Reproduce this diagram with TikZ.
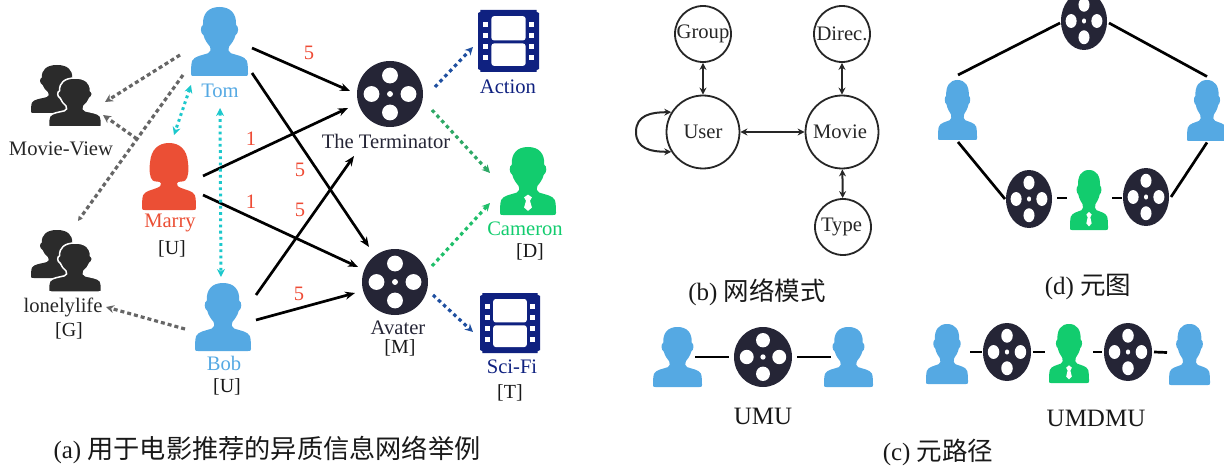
\documentclass[tikz,border=0pt]{standalone}
\usepackage{fontspec}
\setmainfont{Liberation Serif}
\newfontfamily\cjk{Noto Sans CJK SC}
\usetikzlibrary{arrows.meta,calc}
\definecolor{ublue}{HTML}{55A9E3}
\definecolor{ured}{HTML}{EB4F35}
\definecolor{ugreen}{HTML}{12CC6E}
\definecolor{reeldark}{HTML}{252536}
\definecolor{filmnavy}{HTML}{0F2180}
\definecolor{groupgrey}{HTML}{2B2B2B}
\definecolor{numred}{HTML}{EE4B35}
\definecolor{dotgrey}{HTML}{666666}
\definecolor{dotteal}{HTML}{1CC8CC}
\definecolor{dotblue}{HTML}{1F4FA0}
\definecolor{dotgreen}{HTML}{2EA866}
\definecolor{dotlime}{HTML}{1FBF6A}
\tikzset{
 x=1pt,y=-1pt,
 iconbox/.style={inner sep=0pt,outer sep=0pt,rectangle},
 lbl/.style={inner sep=0pt,font=\fontsize{20.6}{22}\selectfont,text=#1},
 lbl/.default=black,
 typ/.style={inner sep=0pt,font=\fontsize{20}{22}\selectfont,text=black!90},
 num/.style={inner sep=0pt,font=\fontsize{20.5}{22}\selectfont,text=numred},
 captext/.style={inner sep=0pt,font=\fontsize{25}{28}\selectfont,text=black!90},
 rel/.style={line width=2.7pt,black,-{Stealth[length=10pt,width=8pt]}},
 link/.style={line width=2.7pt,black},
 dotg/.style={line width=3.2pt,dotgrey,dash pattern=on 4pt off 3pt,-{Stealth[length=8pt,width=8pt]}},
 dott/.style={line width=3pt,dotteal,dash pattern=on 2.8pt off 3.4pt,{Stealth[length=8pt,width=8pt]}-{Stealth[length=8pt,width=8pt]}},
 dotc/.style={line width=3.2pt,#1,dash pattern=on 3.5pt off 3.5pt,-{Stealth[length=8pt,width=8pt]}},
 schema/.style={circle,draw=black!85,line width=1.8pt,inner sep=0pt,font=\fontsize{20.6}{22}\selectfont,text=black!85},
 schemaedge/.style={line width=2pt,black!85,{Stealth[length=7pt,width=7pt]}-{Stealth[length=7pt,width=7pt]}},
}
% person silhouette, unit box
\newcommand\personpath{(0,-.5) .. controls (.2,-.5) and (.3,-.4) .. (.29,-.24)
 .. controls (.34,-.22) and (.34,-.12) .. (.28,-.09)
 .. controls (.26,-.02) and (.21,.03) .. (.17,.07)
 .. controls (.15,.12) and (.15,.15) .. (.2,.17)
 .. controls (.3,.2) and (.44,.21) .. (.48,.28)
 .. controls (.5,.33) and (.5,.42) .. (.5,.47)
 .. controls (.5,.5) and (.48,.5) .. (.45,.5)
 -- (-.45,.5)
 .. controls (-.48,.5) and (-.5,.5) .. (-.5,.47)
 .. controls (-.5,.42) and (-.5,.33) .. (-.48,.28)
 .. controls (-.44,.21) and (-.3,.2) .. (-.2,.17)
 .. controls (-.15,.15) and (-.15,.12) .. (-.17,.07)
 .. controls (-.21,.03) and (-.26,-.02) .. (-.28,-.09)
 .. controls (-.34,-.12) and (-.34,-.22) .. (-.29,-.24)
 .. controls (-.3,-.4) and (-.2,-.5) .. (0,-.5) -- cycle}
\newcommand\personicon[5]{% name,cx,cy,w,h
 \node[iconbox,minimum width=#4pt,minimum height=#5pt] (#1) at (#2,#3) {};
 \begin{scope}[shift={(#2,#3)},xscale=#4,yscale=#5]
  \fill[ublue] \personpath;
 \end{scope}}
\newcommand\directoricon[5]{% name,cx,cy,w,h
 \node[iconbox,minimum width=#4pt,minimum height=#5pt] (#1) at (#2,#3) {};
 \begin{scope}[shift={(#2,#3)},xscale=#4,yscale=#5]
  \fill[ugreen] \personpath;
  \fill[white] (0,.2) -- (.07,.24) -- (.035,.29) -- (.07,.39) -- (0,.44) -- (-.07,.39) -- (-.035,.29) -- (-.07,.24) -- cycle;
 \end{scope}}
\newcommand\womanicon[5]{%
 \node[iconbox,minimum width=#4pt,minimum height=#5pt] (#1) at (#2,#3) {};
 \begin{scope}[shift={(#2,#3)},xscale=#4,yscale=#5]
  \fill[ured] (0,-.5) .. controls (.2,-.5) and (.33,-.4) .. (.35,-.22)
   .. controls (.37,-.1) and (.36,.02) .. (.3,.06)
   .. controls (.25,.09) and (.17,.06) .. (.15,.1)
   .. controls (.14,.13) and (.16,.15) .. (.22,.17)
   .. controls (.3,.2) and (.44,.21) .. (.48,.28)
   .. controls (.5,.33) and (.5,.42) .. (.5,.47)
   .. controls (.5,.5) and (.48,.5) .. (.45,.5) -- (-.45,.5)
   .. controls (-.48,.5) and (-.5,.5) .. (-.5,.47)
   .. controls (-.5,.42) and (-.5,.33) .. (-.48,.28)
   .. controls (-.44,.21) and (-.3,.2) .. (-.22,.17)
   .. controls (-.16,.15) and (-.14,.13) .. (-.15,.1)
   .. controls (-.17,.06) and (-.25,.09) .. (-.3,.06)
   .. controls (-.36,.02) and (-.37,-.1) .. (-.35,-.22)
   .. controls (-.33,-.4) and (-.2,-.5) .. (0,-.5) -- cycle;
 \end{scope}}
\newcommand\groupicon[3]{% name,cx,cy
 \node[iconbox,minimum width=70pt,minimum height=62pt] (#1) at (#2,#3) {};
 \begin{scope}[shift={(#2-9,#3-7)},xscale=52,yscale=48]
  \fill[groupgrey] \personpath;
 \end{scope}
 \begin{scope}[shift={(#2+9,#3+6.5)},xscale=53,yscale=49]
  \fill[groupgrey,draw=white,line width=1.5pt] \personpath;
 \end{scope}}
\newcommand\reelicon[5]{% name,cx,cy,rx,ry
 \node[iconbox,minimum width=2*#4 pt,minimum height=2*#5 pt] (#1) at (#2,#3) {};
 \begin{scope}[shift={(#2,#3)},xscale=#4,yscale=#5]
  \fill[reeldark] (0,0) circle (1);
  \fill[white] (0,-.56) circle (.24) (0,.56) circle (.24) (-.56,0) circle (.24) (.56,0) circle (.24) (0,0) circle (.09);
 \end{scope}}
\newcommand\filmicon[5]{% name,cx,cy,w,h
 \node[iconbox,minimum width=#4pt,minimum height=#5pt] (#1) at (#2,#3) {};
 \begin{scope}[shift={(#2,#3)},xscale=#4,yscale=#5]
  \fill[filmnavy] (-.46,-.5) -- (.46,-.5) -- (.46,-.47) -- (.5,-.45) -- (.5,.45) -- (.46,.47) -- (.46,.5) -- (-.46,.5) -- (-.46,.47) -- (-.5,.45) -- (-.5,-.45) -- (-.46,-.47) -- cycle;
  \fill[white,rounded corners=2.5pt] (-.28,-.40) rectangle (.28,-.01);
  \fill[white,rounded corners=2.5pt] (-.28,.04) rectangle (.28,.40);
  \foreach \yy in {-.27,-.095,.095,.27}{
   \fill[white] (-.41,\yy-.04) rectangle (-.34,\yy+.04);
   \fill[white] (.34,\yy-.04) rectangle (.41,\yy+.04);}
 \end{scope}}
\begin{document}
\begin{tikzpicture}
\useasboundingbox (0,0) rectangle (1224,468);
\clip (0,0) rectangle (1224,468);
% ---- panel (a) icons
\personicon{tom}{219.5}{41.5}{57}{69}
\womanicon{marry}{169}{176.5}{54}{67}
\personicon{bob}{223}{317}{56}{68}
\groupicon{mv}{66}{96}
\groupicon{ll}{66}{261}
\reelicon{term}{390}{94}{33}{33}
\reelicon{av}{395}{282}{33}{33}
\filmicon{action}{508.5}{41}{61}{62}
\filmicon{scifi}{510}{323}{60}{60}
\directoricon{cam}{528}{181}{56}{68}
% labels
\node[lbl=ublue] (tomlbl) at (220,91) {Tom};
\node[lbl=ured] (marrylbl) at (170,223) {Marry};
\node[typ] (marrytyp) at (172,249) {[U]};
\node[lbl=ublue] (boblbl) at (224,363) {Bob};
\node[typ] (bobtyp) at (227,387) {[U]};
\node[lbl=black!85] (mvlbl) at (61,149) {Movie-View};
\node[lbl=black!85] (lllbl) at (63,307) {lonelylife};
\node[typ] (lltyp) at (69,331) {[G]};
\node[lbl=reeldark] (termlbl) at (386,141) {The Terminator};
\node[lbl=reeldark] (avlbl) at (398,328) {Avater};
\node[typ] (avtyp) at (400,348) {[M]};
\node[lbl=filmnavy] (actlbl) at (508,87) {Action};
\node[lbl=filmnavy] (scilbl) at (512,367) {Sci-Fi};
\node[typ] (scityp) at (510,393) {[T]};
\node[lbl=ugreen] (camlbl) at (525,229) {Cameron};
\node[typ] (camtyp) at (530,252) {[D]};
% ratings
\draw[rel] ($(tom)+(32.5,6.5)$) -- ($(term)+(-40,-3)$);
\draw[rel] ($(marry)+(34,-.5)$) -- ($(term)+(-42,14)$);
\draw[rel] ($(tom)+(32.5,31.5)$) -- ($(av)+(-26,-35)$);
\draw[rel] ($(marry)+(34,18.5)$) -- ($(av)+(-37,-15)$);
\draw[rel] ($(bob)+(33,-22)$) -- ($(term)+(-36,62)$);
\draw[rel] ($(bob)+(33,3)$) -- ($(av)+(-40,11)$);
\node[num] (n1) at (309,53) {5};
\node[num] (n2) at (251,139) {1};
\node[num] (n3) at (300,170) {5};
\node[num] (n4) at (300,210) {5};
\node[num] (n5) at (251,202) {1};
\node[num] (n6) at (299,294) {5};
% dotted
\coordinate (junc) at (137,139);
\draw[dotg] ($(tom)+(-39.5,13.5)$) -- ($(mv)+(39,6)$);
\draw[dotg,-{Stealth[length=5pt,width=5pt]}] ($(tom)+(-36.5,33.5)$) -- ($(ll)+(12,-40)$);
\draw[dotg] (junc) -- ($(mv)+(37,19)$);
\draw[dotg] ($(bob)+(-38,12)$) -- ($(ll)+(40,46)$);
\draw[dott] ($(tom)+(-28.5,43.5)$) -- ($(marry)+(5,-41.5)$);
\draw[dott] ($(tom)+(.5,66.5)$) -- ($(bob)+(-2,-40)$);
\draw[dotc=dotblue] ($(term)+(45,-7)$) -- ($(action)+(-35.5,6)$);
\draw[dotc=dotgreen] ($(term)+(42,16)$) -- ($(cam)+(-38,-8)$);
\draw[dotc=dotlime] ($(av)+(37,-16)$) -- ($(cam)+(-38,22)$);
\draw[dotc=dotblue] ($(av)+(38,13)$) -- ($(scifi)+(-37,9)$);
\node[captext] (capa) at (267,450) {(a) {\cjk\fontsize{26.2}{28}\selectfont 用于电影推荐的异质信息网络举例}};
% ---- panel (b)
\node[schema,minimum size=56pt] (group) at (703,34) {\raisebox{-2pt}{Group}};
\node[schema,minimum size=56pt] (direc) at (842,34) {\raisebox{-1pt}{Direc.}};
\node[schema,minimum size=73pt] (user) at (703,132) {\raisebox{-3pt}{User}};
\node[schema,minimum size=73pt] (movie) at (842,132) {Movie\kern4pt};
\node[schema,minimum size=56pt] (type) at (843,227) {\raisebox{-2pt}{Type}\kern3pt};
\coordinate (loopl) at ($(user)+(-67,0)$);
\draw[schemaedge] (group) -- (user);
\draw[schemaedge] (direc) -- (movie);
\draw[schemaedge] (user) -- (movie);
\draw[schemaedge] (movie) -- (type);
\draw[schemaedge] (user.212) .. controls ($(user.212)+(-20,0)$) and ($(loopl)+(0,17)$) .. (loopl) .. controls ($(loopl)+(0,-17)$) and ($(user.148)+(-20,0)$) .. (user.148);
\node[captext] (capb) at (757,292) {(b) {\cjk\fontsize{25.5}{28}\selectfont 网络模式}};
% ---- panel (d)
\reelicon{dtop}{1084}{21}{23}{29}
\personicon{dl}{957.5}{110}{39}{60}
\personicon{dr}{1207}{110.5}{40}{61}
\reelicon{dreela}{1029}{199}{23}{29}
\directoricon{dgreen}{1089}{200}{38}{60}
\reelicon{dreelb}{1146}{197}{23}{29}
\draw[link] ($(dl)+(.5,-35)$) -- ($(dtop)+(-24,2)$);
\draw[link] ($(dtop)+(25,2)$) -- ($(dr)+(0,-34)$);
\draw[link] ($(dl)+(.5,32)$) -- ($(dreela)+(-24,0)$);
\draw[link] ($(dreelb)+(25,0)$) -- ($(dr)+(0,32)$);
\draw[link] ($(dreela)+(28,-1)$) -- ($(dgreen)+(-22,-2)$);
\draw[link] ($(dgreen)+(23,-2)$) -- ($(dreelb)+(-24,1)$);
\node[captext] (capd) at (1088,287) {(d) {\cjk\fontsize{25.5}{28}\selectfont 元图}};
% ---- panel (c)
\personicon{cua}{677.5}{357}{49}{60}
\reelicon{creel}{763}{357}{29}{30}
\personicon{cub}{848.5}{357}{49}{60}
\draw[link] ($(cua)+(17.5,0)$) -- ($(creel)+(-34,0)$);
\draw[link] ($(creel)+(34,0)$) -- ($(cub)+(-17.5,0)$);
\node[captext] (umu) at (763,416) {UMU};
\personicon{pua}{947}{354}{42}{60}
\reelicon{preela}{1007}{352}{24}{29}
\directoricon{pgreen}{1069}{353.5}{40}{59}
\reelicon{preelb}{1128}{352}{24}{29}
\personicon{pub}{1189.5}{354.5}{41}{61}
\draw[link] ($(pua)+(23,-2)$) -- ($(preela)+(-25,0)$);
\draw[link] ($(preela)+(26,0)$) -- ($(pgreen)+(-24,-1.5)$);
\draw[link] ($(pgreen)+(24,-1.5)$) -- ($(preelb)+(-26,0)$);
\draw[link] ($(preelb)+(26,0)$) -- ($(pub)+(-22.5,-2)$);
\node[captext] (umdmu) at (1096,418) {UMDMU};
\node[captext] (capc) at (938,452) {(c) {\cjk\fontsize{25.5}{28}\selectfont 元路径}};
\end{tikzpicture}
\end{document}
